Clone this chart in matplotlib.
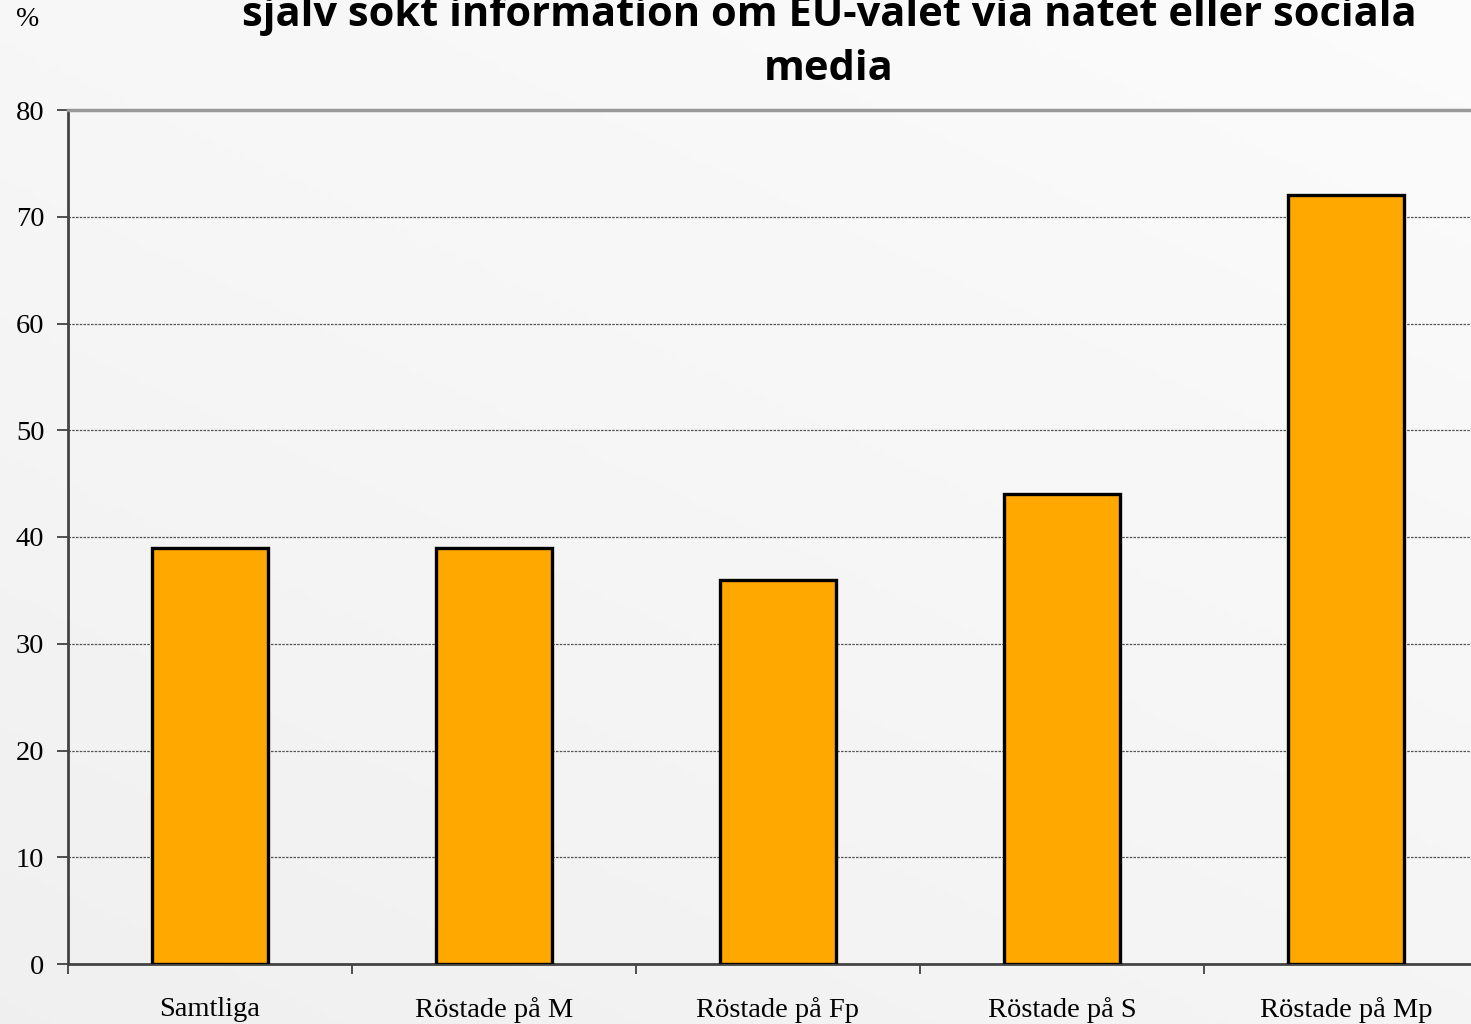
import matplotlib
matplotlib.use("Agg")
import matplotlib.pyplot as plt
import numpy as np

categories = ["Samtliga", "Röstade på M", "Röstade på Fp", "Röstade på S", "Röstade på Mp"]
values = [39, 39, 36, 44, 72]
yticks = [0, 10, 20, 30, 40, 50, 60, 70, 80]
title = "själv sökt information om EU-valet via nätet eller sociala\nmedia"

fig = plt.figure(figsize=(14.71, 10.24), dpi=100)

# soft grey gradient background
bg = fig.add_axes([0, 0, 1, 1], zorder=-10)
gx, gy = np.meshgrid(np.linspace(0, 1, 200), np.linspace(0, 1, 200))
grad = 0.4 * gx + 0.6 * (1 - gy)
bg.imshow(grad, cmap="Greys_r", vmin=-9, vmax=1.3, aspect="auto",
          extent=[0, 1, 0, 1], origin="upper")
bg.axis("off")

ax = fig.add_axes([68 / 1471, 1 - 964 / 1024, (1471 - 68) / 1471, (964 - 110) / 1024])
ax.set_facecolor("none")

x = np.arange(len(categories))
ax.bar(x, values, width=0.405, color="#FFA800", edgecolor="black", linewidth=2.4, zorder=3)

ax.set_yticks(yticks)
ax.set_yticklabels([str(t) for t in yticks], fontfamily="Liberation Serif", fontsize=20.5)
ax.set_xticks(x)
ax.set_xticklabels(categories, fontfamily="Liberation Serif", fontsize=20.5)
ax.tick_params(axis="x", length=0, pad=24)
ax.set_xticks(np.arange(len(categories) + 1) - 0.5, minor=True)
ax.tick_params(axis="x", which="minor", length=7, width=1.2, color="#333333", direction="out")
ax.tick_params(axis="y", length=8, width=1.2, color="#333333", pad=9)
ax.set_ylim(0, 80)
ax.set_xlim(-0.5, -0.5 + 1403 / 284)

ax.yaxis.grid(True, linestyle=(0, (2, 1)), color="#555555", linewidth=0.9, zorder=1)
ax.set_axisbelow(True)

ax.spines["right"].set_visible(False)
ax.spines["top"].set_color("#999999")
ax.spines["top"].set_linewidth(2.5)
ax.spines["left"].set_color("#444444")
ax.spines["left"].set_linewidth(2)
ax.spines["bottom"].set_color("#444444")
ax.spines["bottom"].set_linewidth(2)

fig.text(28 / 1471, 1 - 20 / 1024, "%", fontfamily="Liberation Serif", fontsize=20,
         ha="center", va="center")
fig.text(829 / 1471, 1 - 80 / 1024, title, fontfamily="Open Sans", fontweight="bold",
         fontsize=30, ha="center", va="baseline", linespacing=1.42)

fig.savefig("out.png", dpi=100)
